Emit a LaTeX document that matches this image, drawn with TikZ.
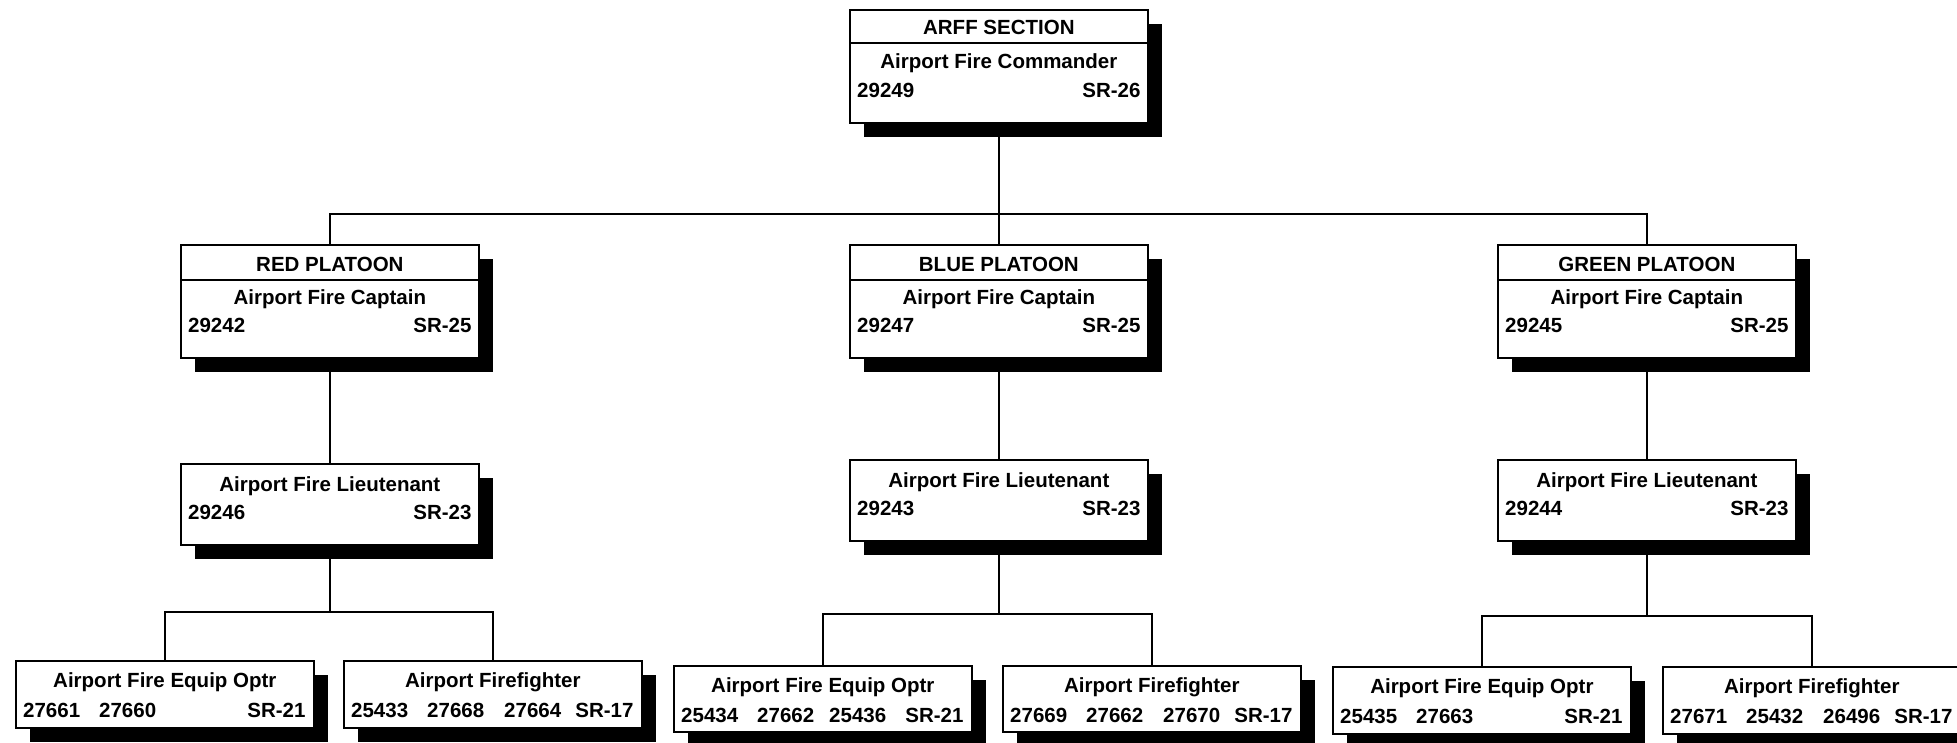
\documentclass[tikz,border=0pt]{standalone}
\usepackage{fontspec}
\setmainfont{Liberation Sans}
\usetikzlibrary{shadows}
\tikzset{
  orgbox/.style={draw, line width=1.7pt, fill=white, minimum width=298pt, inner sep=0pt, anchor=north west,
    drop shadow={shadow xshift=14pt, shadow yshift=-14pt, opacity=1, fill=black}},
  txt/.style={inner sep=0pt, anchor=base, font=\fontsize{20.5}{24}\selectfont\bfseries},
  txtl/.style={txt, anchor=base west},
  txtr/.style={txt, anchor=base east},
  divider/.style={line width=1.7pt},
  conn/.style={line width=1.6pt}
}
\begin{document}
\begin{tikzpicture}[x=1pt, y=-1pt]
\clip (0,0) rectangle (1957,742);
\fill[white] (0,0) rectangle (1957,742);

% ---- top box
\node[orgbox, minimum height=113pt] (top) at (849,9) {};
\draw[divider] ([yshift=-34pt]top.north west) -- ([yshift=-34pt]top.north east);
\node[txt] (topT) at ([yshift=-25pt]top.north) {ARFF SECTION};
\node[txt] (topP) at ([yshift=-59pt]top.north) {Airport Fire Commander};
\node[txtl] (topN) at ([xshift=8pt,yshift=-88pt]top.north west) {29249};
\node[txtr] (topG) at ([xshift=-8pt,yshift=-88pt]top.north east) {SR-26};

% ---- platoons
\node[orgbox, minimum height=113pt] (red) at (180,244) {};
\draw[divider] ([yshift=-36pt]red.north west) -- ([yshift=-36pt]red.north east);
\node[txt] (redT) at ([yshift=-27pt]red.north) {RED PLATOON};
\node[txt] (redP) at ([yshift=-60pt]red.north) {Airport Fire Captain};
\node[txtl] (redN) at ([xshift=8pt,yshift=-88pt]red.north west) {29242};
\node[txtr] (redG) at ([xshift=-8pt,yshift=-88pt]red.north east) {SR-25};

\node[orgbox, minimum height=113pt] (blue) at (849,244) {};
\draw[divider] ([yshift=-36pt]blue.north west) -- ([yshift=-36pt]blue.north east);
\node[txt] (blueT) at ([yshift=-27pt]blue.north) {BLUE PLATOON};
\node[txt] (blueP) at ([yshift=-60pt]blue.north) {Airport Fire Captain};
\node[txtl] (blueN) at ([xshift=8pt,yshift=-88pt]blue.north west) {29247};
\node[txtr] (blueG) at ([xshift=-8pt,yshift=-88pt]blue.north east) {SR-25};

\node[orgbox, minimum height=113pt] (green) at (1497,244) {};
\draw[divider] ([yshift=-36pt]green.north west) -- ([yshift=-36pt]green.north east);
\node[txt] (greenT) at ([yshift=-27pt]green.north) {GREEN PLATOON};
\node[txt] (greenP) at ([yshift=-60pt]green.north) {Airport Fire Captain};
\node[txtl] (greenN) at ([xshift=8pt,yshift=-88pt]green.north west) {29245};
\node[txtr] (greenG) at ([xshift=-8pt,yshift=-88pt]green.north east) {SR-25};

% ---- lieutenants
\node[orgbox, minimum height=81pt] (redL) at (180,463) {};
\node[txt] (redLP) at ([yshift=-28pt]redL.north) {Airport Fire Lieutenant};
\node[txtl] (redLN) at ([xshift=8pt,yshift=-56pt]redL.north west) {29246};
\node[txtr] (redLG) at ([xshift=-8pt,yshift=-56pt]redL.north east) {SR-23};

\node[orgbox, minimum height=81pt] (blueL) at (849,459) {};
\node[txt] (blueLP) at ([yshift=-28pt]blueL.north) {Airport Fire Lieutenant};
\node[txtl] (blueLN) at ([xshift=8pt,yshift=-56pt]blueL.north west) {29243};
\node[txtr] (blueLG) at ([xshift=-8pt,yshift=-56pt]blueL.north east) {SR-23};

\node[orgbox, minimum height=81pt] (greenL) at (1497,459) {};
\node[txt] (greenLP) at ([yshift=-28pt]greenL.north) {Airport Fire Lieutenant};
\node[txtl] (greenLN) at ([xshift=8pt,yshift=-56pt]greenL.north west) {29244};
\node[txtr] (greenLG) at ([xshift=-8pt,yshift=-56pt]greenL.north east) {SR-23};

% ---- bottom row: red
\node[orgbox, minimum height=67pt] (redA) at (15,660) {};
\node[txt] (redAP) at ([yshift=-27pt]redA.north) {Airport Fire Equip Optr};
\node[txtl] (redA1) at ([xshift=8pt,yshift=-57pt]redA.north west) {27661};
\node[txtl] (redA2) at ([xshift=84pt,yshift=-57pt]redA.north west) {27660};
\node[txtr] (redAG) at ([xshift=-9pt,yshift=-57pt]redA.north east) {SR-21};

\node[orgbox, minimum height=67pt] (redB) at (343,660) {};
\node[txt] (redBP) at ([yshift=-27pt]redB.north) {Airport Firefighter};
\node[txtl] (redB1) at ([xshift=8pt,yshift=-57pt]redB.north west) {25433};
\node[txtl] (redB2) at ([xshift=84pt,yshift=-57pt]redB.north west) {27668};
\node[txtl] (redB3) at ([xshift=161pt,yshift=-57pt]redB.north west) {27664};
\node[txtr] (redBG) at ([xshift=-9pt,yshift=-57pt]redB.north east) {SR-17};

% ---- bottom row: blue
\node[orgbox, minimum height=66pt] (blueA) at (673,665) {};
\node[txt] (blueAP) at ([yshift=-27pt]blueA.north) {Airport Fire Equip Optr};
\node[txtl] (blueA1) at ([xshift=8pt,yshift=-57pt]blueA.north west) {25434};
\node[txtl] (blueA2) at ([xshift=84pt,yshift=-57pt]blueA.north west) {27662};
\node[txtl] (blueA3) at ([xshift=156pt,yshift=-57pt]blueA.north west) {25436};
\node[txtr] (blueAG) at ([xshift=-9pt,yshift=-57pt]blueA.north east) {SR-21};

\node[orgbox, minimum height=66pt] (blueB) at (1002,665) {};
\node[txt] (blueBP) at ([yshift=-27pt]blueB.north) {Airport Firefighter};
\node[txtl] (blueB1) at ([xshift=8pt,yshift=-57pt]blueB.north west) {27669};
\node[txtl] (blueB2) at ([xshift=84pt,yshift=-57pt]blueB.north west) {27662};
\node[txtl] (blueB3) at ([xshift=161pt,yshift=-57pt]blueB.north west) {27670};
\node[txtr] (blueBG) at ([xshift=-9pt,yshift=-57pt]blueB.north east) {SR-17};

% ---- bottom row: green
\node[orgbox, minimum height=67pt] (greenA) at (1332,666) {};
\node[txt] (greenAP) at ([yshift=-27pt]greenA.north) {Airport Fire Equip Optr};
\node[txtl] (greenA1) at ([xshift=8pt,yshift=-57pt]greenA.north west) {25435};
\node[txtl] (greenA2) at ([xshift=84pt,yshift=-57pt]greenA.north west) {27663};
\node[txtr] (greenAG) at ([xshift=-9pt,yshift=-57pt]greenA.north east) {SR-21};

\node[orgbox, minimum height=67pt] (greenB) at (1662,666) {};
\node[txt] (greenBP) at ([yshift=-27pt]greenB.north) {Airport Firefighter};
\node[txtl] (greenB1) at ([xshift=8pt,yshift=-57pt]greenB.north west) {27671};
\node[txtl] (greenB2) at ([xshift=84pt,yshift=-57pt]greenB.north west) {25432};
\node[txtl] (greenB3) at ([xshift=161pt,yshift=-57pt]greenB.north west) {26496};
\node[txtr] (greenBG) at ([xshift=-9pt,yshift=-57pt]greenB.north east) {SR-17};

% ---- connectors
\coordinate (busTop) at (0,214);
\coordinate (busRed) at (0,612);
\coordinate (busBlue) at (0,614);
\coordinate (busGreen) at (0,616);

\draw[conn] (top.south) -- (top.south |- busTop) -| (red.north);
\draw[conn] (top.south |- busTop) -| (green.north);
\draw[conn] (top.south) -- (blue.north);

\draw[conn] (red.south) -- (redL.north);
\draw[conn] (blue.south) -- (blueL.north);
\draw[conn] (green.south) -- (greenL.north);

\draw[conn] (redL.south) -- (redL.south |- busRed) -| (redA.north);
\draw[conn] (redL.south |- busRed) -| (redB.north);
\draw[conn] (blueL.south) -- (blueL.south |- busBlue) -| (blueA.north);
\draw[conn] (blueL.south |- busBlue) -| (blueB.north);
\draw[conn] (greenL.south) -- (greenL.south |- busGreen) -| (greenA.north);
\draw[conn] (greenL.south |- busGreen) -| (greenB.north);
\end{tikzpicture}
\end{document}
